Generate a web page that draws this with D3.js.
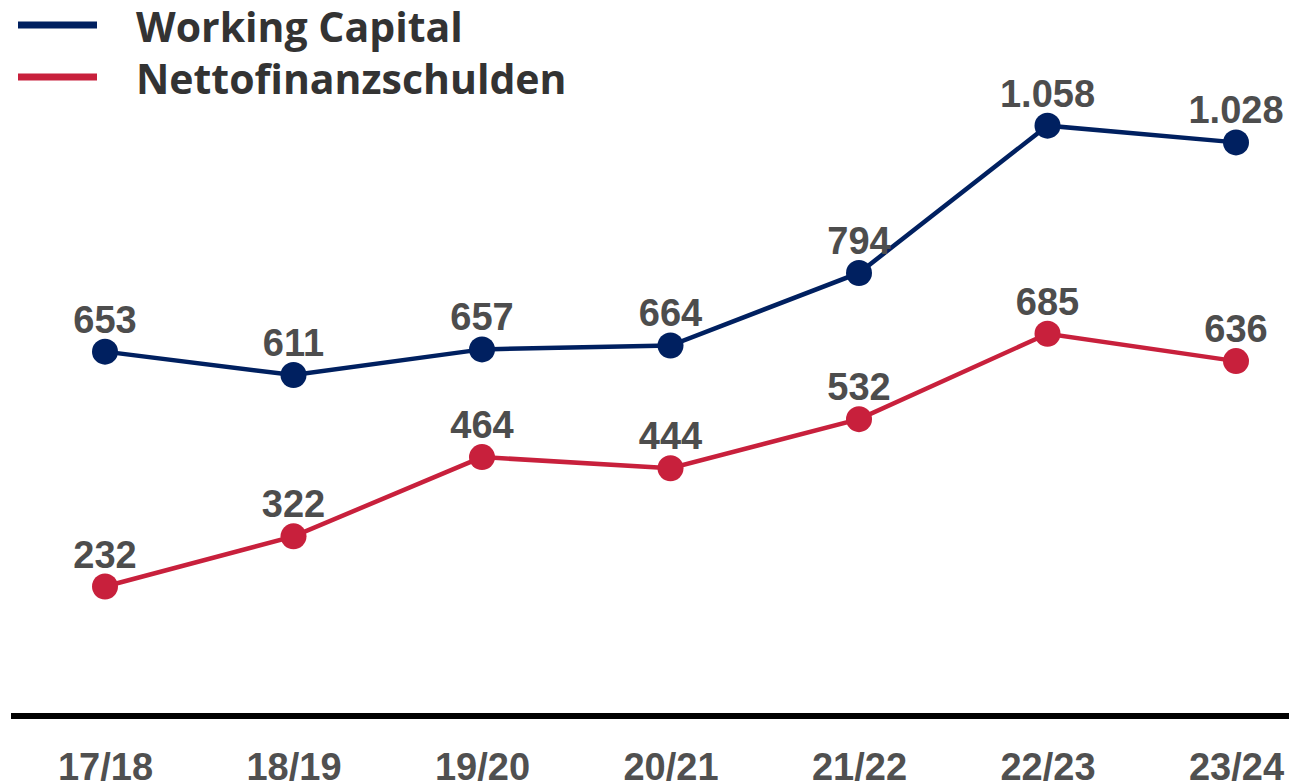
<!DOCTYPE html>
<html><head><meta charset="utf-8">
<script src="https://cdn.jsdelivr.net/npm/d3@7"></script>
<style>body{margin:0;background:#fff}svg{display:block}</style>
</head><body>
<script>
const categories = ["17/18","18/19","19/20","20/21","21/22","22/23","23/24"];
const workingCapital = [653,611,657,664,794,1058,1028];
const nettofinanzschulden = [232,322,464,444,532,685,636];
const seriesNames = ["Working Capital","Nettofinanzschulden"];
const seriesColors = ["#002060","#C8203C"];

const W = 1289, H = 782;
const svg = d3.select("body").append("svg").attr("width",W).attr("height",H);
const x = d3.scalePoint().domain(categories).range([105,1236]);
const y = d3.scaleLinear().domain([0,1000]).range([716,158]);
const fmt = v => v >= 1000 ? d3.format(",")(v).replace(",", ".") : String(v);

// axis
const xAxis = d3.axisBottom(x).tickSize(0).tickPadding(0);
const gx = svg.append("g").attr("transform","translate(0,716)").call(xAxis);
gx.select(".domain").attr("d","M11,0H1289").attr("stroke","#000").attr("stroke-width",6);
gx.selectAll(".tick text").attr("dy",null).attr("y",64)
  .attr("font-family","Liberation Sans, Arial, sans-serif").attr("font-weight","bold")
  .attr("font-size",38).attr("fill","#505050");

const series = [workingCapital, nettofinanzschulden];
const line = d3.line().x((d,i)=>x(categories[i])).y(d=>y(d));
series.forEach((vals,si)=>{
  const g = svg.append("g");
  g.append("path").datum(vals).attr("d",line).attr("fill","none")
    .attr("stroke",seriesColors[si]).attr("stroke-width",4.5);
  g.selectAll("circle").data(vals).join("circle")
    .attr("cx",(d,i)=>x(categories[i])).attr("cy",d=>y(d)).attr("r",13)
    .attr("fill",seriesColors[si]);
  g.selectAll("text").data(vals).join("text")
    .attr("x",(d,i)=>x(categories[i])).attr("y",d=>y(d)-19)
    .attr("text-anchor","middle")
    .attr("font-family","Liberation Sans, Arial, sans-serif").attr("font-weight","bold")
    .attr("font-size",38).attr("fill","#4d4d4d")
    .text(fmt);
});

// legend
seriesNames.forEach((n,i)=>{
  const yy = 25 + i*52;
  svg.append("line").attr("x1",18).attr("x2",97).attr("y1",yy).attr("y2",yy)
    .attr("stroke",seriesColors[i]).attr("stroke-width",7);
  svg.append("text").attr("x",136).attr("y",yy+17).text(n)
    .attr("font-family","Open Sans, sans-serif").attr("font-weight",700)
    .attr("font-size",41).attr("fill","#333");
});
</script>
</body></html>
